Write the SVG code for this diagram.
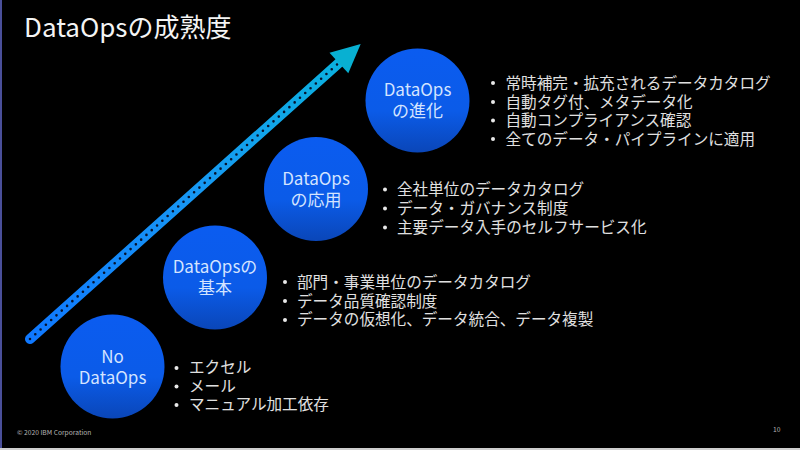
<svg xmlns="http://www.w3.org/2000/svg" width="800" height="450" viewBox="0 0 800 450">
<style>
text{font-family:"Noto Sans CJK JP","Noto Sans",sans-serif;fill:#f2f2f2}
.c{fill:url(#cg)}
.n{font-size:17px;text-anchor:middle;fill:#d4e4ff}
.l{font-size:15.6px;fill:#e0e0e0}
.b{fill:#e8e8e8}
.s{font-size:6.7px;fill:#b4b4b4}
</style>
<defs>
<linearGradient id="cg" x1="0" y1="0" x2="0" y2="1"><stop offset="0" stop-color="#0b5cf0"/><stop offset="0.6" stop-color="#0b5be8"/><stop offset="1" stop-color="#0a46b8"/></linearGradient>
<linearGradient id="ag" gradientUnits="userSpaceOnUse" x1="30" y1="339" x2="360" y2="44"><stop offset="0" stop-color="#0f78ff"/><stop offset="0.5" stop-color="#1798f4"/><stop offset="1" stop-color="#09b4dc"/></linearGradient>
</defs>
<rect width="800" height="450" fill="#000"/>
<rect x="0" y="0" width="2" height="450" fill="#4a4f9a"/>
<rect x="0" y="448" width="800" height="2" fill="#cfcfcf"/>
<text x="24" y="37" font-size="26" style="fill:#f4f4f4">DataOpsの成熟度</text>
<g id="connectors">
<line x1="30" y1="339" x2="340" y2="62" stroke="url(#ag)" stroke-width="10" stroke-linecap="round"/>
<line x1="30" y1="339" x2="341" y2="61" stroke="#06122e" stroke-width="2.6" stroke-linecap="round" stroke-dasharray="0 7.1"/>
<polygon points="360.7,44 329.5,52.7 348.3,73.3" fill="#08b0d2"/>
</g>
<g id="node-no-dataops">
<circle class="c" cx="112.5" cy="366.5" r="52"/>
<text class="n" x="112.5" y="363">No</text>
<text class="n" x="112.5" y="384">DataOps</text>
<circle class="b" cx="176.5" cy="368" r="2"/><circle class="b" cx="176.5" cy="386.5" r="2"/><circle class="b" cx="176.5" cy="405" r="2"/>
<text class="l" x="189" y="373">エクセル</text>
<text class="l" x="189" y="391.5">メール</text>
<text class="l" x="189" y="410">マニュアル加工依存</text>
</g>
<g id="node-basic">
<circle class="c" cx="215" cy="277.5" r="52"/>
<text class="n" x="215" y="273">DataOpsの</text>
<text class="n" x="215" y="293.5">基本</text>
<circle class="b" cx="285" cy="282" r="2"/><circle class="b" cx="285" cy="301" r="2"/><circle class="b" cx="285" cy="320" r="2"/>
<text class="l" x="297" y="288">部門・事業単位のデータカタログ</text>
<text class="l" x="297" y="306.5">データ品質確認制度</text>
<text class="l" x="297" y="325">データの仮想化、データ統合、データ複製</text>
</g>
<g id="node-applied">
<circle class="c" cx="316" cy="189" r="52"/>
<text class="n" x="316" y="185">DataOps</text>
<text class="n" x="316" y="205.500">の応用</text>
<circle class="b" cx="385" cy="189.500" r="2"/><circle class="b" cx="385" cy="208.500" r="2"/><circle class="b" cx="385" cy="227.500" r="2"/>
<text class="l" x="397" y="195">全社単位のデータカタログ</text>
<text class="l" x="397" y="214">データ・ガバナンス制度</text>
<text class="l" x="397" y="233">主要データ入手のセルフサービス化</text>
</g>
<g id="node-evolved">
<circle class="c" cx="417.500" cy="100.500" r="52"/>
<text class="n" x="417.500" y="96">DataOps</text>
<text class="n" x="417.500" y="116.500">の進化</text>
<circle class="b" cx="493" cy="83" r="2"/><circle class="b" cx="493" cy="102" r="2"/><circle class="b" cx="493" cy="120.500" r="2"/><circle class="b" cx="493" cy="139" r="2"/>
<text class="l" x="505.500" y="89">常時補完・拡充されるデータカタログ</text>
<text class="l" x="505.500" y="107.500">自動タグ付、メタデータ化</text>
<text class="l" x="505.500" y="126">自動コンプライアンス確認</text>
<text class="l" x="505.500" y="144.500">全てのデータ・パイプラインに適用</text>
</g>
<text class="s" x="17" y="435">© 2020 IBM Corporation</text>
<text class="s" x="773" y="432">10</text>
</svg>
